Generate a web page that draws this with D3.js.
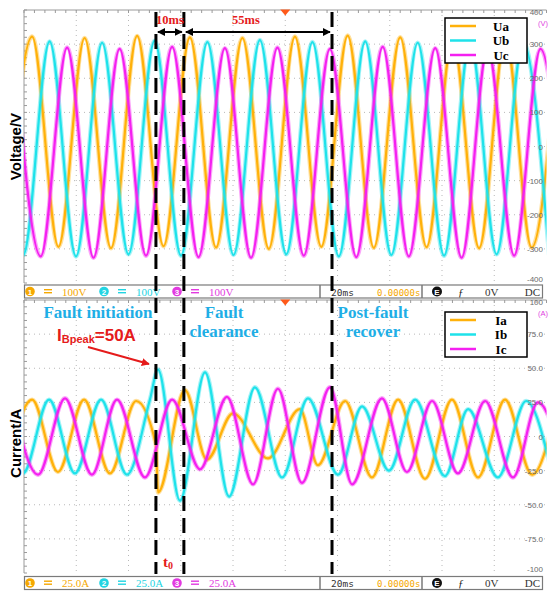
<!DOCTYPE html>
<html>
<head>
<meta charset="utf-8">
<script src="https://cdn.jsdelivr.net/npm/d3@7"></script>
<style>
body { margin: 0; background: #fff; }
</style>
</head>
<body>
<script>
// voltage extrema (time ms, value V)
var uaT = [-7.0, 3.1, 13.2, 23.2, 33.3, 43.3, 53.4, 63.5, 73.5, 83.6, 93.7, 103.7, 113.8, 123.9, 133.9, 144.0, 154.1, 164.1, 174.2, 184.3, 194.3, 204.4];
var uaV = [-296, 322, -294, 318, -298, 324, -292, 320, -296, 318, -300, 322, -294, 325, -297, 320, -295, 318, -298, 322, -296, 320];
var ubT = [-10.3, -0.3, 9.8, 19.9, 29.9, 40.0, 50.0, 60.1, 70.2, 80.2, 90.3, 100.4, 110.4, 120.5, 130.6, 140.6, 150.7, 160.8, 170.8, 180.9, 191.0, 201.0];
var ubV = [306, -318, 308, -322, 304, -316, 310, -320, 306, -318, 312, -316, 306, -322, 308, -318, 304, -320, 310, -316, 306, -318];
var ucT = [-3.6, 6.4, 16.5, 26.6, 36.6, 46.7, 56.7, 66.8, 76.9, 86.9, 97.0, 107.1, 117.1, 127.2, 137.3, 147.3, 157.4, 167.5, 177.5, 187.6, 197.7, 207.7];
var ucV = [288, -322, 290, -326, 286, -320, 292, -324, 288, -326, 290, -320, 286, -324, 292, -322, 288, -326, 290, -320, 286, -324];

// current extrema (time ms, value A)
var iaT = [-6.9, 3.1, 13.0, 23.0, 32.9, 42.9, 50.5, 51.3, 61.6, 70.0, 80.0, 93.4, 105.6, 112.5, 122.9, 133.2, 143.2, 153.5, 163.8, 173.8, 184.1, 194.5, 204.4];
var iaV = [-26, 27, -26, 27, -27, 26, -6, -41, 34, -17, 17, -16, 20, -21, 26, -30, 27, -31, 27, -30, 27, -28, 27];
var ibT = [-10.3, -0.4, 9.6, 19.5, 29.5, 39.4, 48.2, 51.3, 59.7, 69.3, 78.5, 88.4, 98.8, 108.7, 120.2, 129.4, 139.7, 149.7, 161.1, 170.0, 181.4, 192.2, 202.1];
var ibV = [27, -27, 27, -27, 27, -28, 27, 49, -47, 47, -44, 36, -30, 28, -28, 22, -25, 27, -29, 20, -30, 26, -27];
var icT = [-4.6, 5.4, 15.7, 26.0, 35.6, 46.3, 56.7, 67.4, 77.7, 87.7, 97.2, 106.4, 117.1, 125.6, 137.0, 146.6, 156.2, 166.1, 176.5, 187.2, 196.7, 207.1];
var icV = [27, -28, 28, -28, 27, -30, 27, -24, 29, -35, 35, -34, 36, -35, 28, -26, 26, -27, 26, -30, 25, -27];

// scope screen settings and markers
var uTicks = [400, 300, 200, 100, 0, -100, -200, -300, -400];
var iTicks = [100, 75, 50, 25, 0, -25, -50, -75, -100];
var timeDivs = [0, 20, 40, 60, 80, 100, 120, 140, 160, 180, 200];
var faultTimes = [50.5, 61.2, 117.9];
var uNames = ["Ua", "Ub", "Uc"];
var iNames = ["Ia", "Ib", "Ic"];
var colors = ["#ffb10a", "#1ee2ea", "#f420f0"];
var barColors = ["#f5a800", "#22d4e2", "#e23ae0"];

var width = 550, height = 602;
var svg = d3.select("body").append("svg")
  .attr("width", width).attr("height", height)
  .style("font-family", "Liberation Sans, Arial, sans-serif");

var x = d3.scaleLinear().domain([0, 200]).range([24, 546.5]);
var yU = d3.scaleLinear().domain([-400, 400]).range([283, 10]);
var yI = d3.scaleLinear().domain([-100, 100]).range([573, 300]);

var defs = svg.append("defs");
function marker(id, color) {
  defs.append("marker").attr("id", id)
    .attr("viewBox", "0 0 10 10").attr("refX", 9).attr("refY", 5)
    .attr("markerWidth", 4).attr("markerHeight", 4).attr("orient", "auto-start-reverse")
    .append("path").attr("d", "M0,0L10,5L0,10z").attr("fill", color);
}
marker("arrK", "#000");
marker("arrR", "#e51b1b");

function panel(y, ticks, fmt, unit, names, series, name) {
  var g = svg.append("g");
  var y0 = y.range()[1], y1 = y.range()[0];

  defs.append("clipPath").attr("id", "clip" + name)
    .append("rect").attr("x", x(0)).attr("y", y0).attr("width", x(200) - x(0)).attr("height", y1 - y0);
  defs.append("clipPath").attr("id", "lab" + name)
    .append("rect").attr("x", 500).attr("y", y0 - 2).attr("width", 50).attr("height", y1 - y0 + 2);

  // dotted grid
  g.selectAll(".vg").data(timeDivs.slice(1, -1)).enter().append("line")
    .attr("x1", d => x(d)).attr("x2", d => x(d)).attr("y1", y0).attr("y2", y1)
    .attr("stroke", "#b8b8b8").attr("stroke-width", 1).attr("stroke-dasharray", "1,4");
  g.selectAll(".hg").data(ticks.slice(1, -1)).enter().append("line")
    .attr("x1", x(0)).attr("x2", x(200)).attr("y1", d => y(d)).attr("y2", d => y(d))
    .attr("stroke", "#b8b8b8").attr("stroke-width", 1).attr("stroke-dasharray", "1,4");

  // frame with small ticks
  g.append("line").attr("x1", x(0)).attr("x2", x(200)).attr("y1", y0).attr("y2", y0).attr("stroke", "#9a9a9a");
  g.append("line").attr("x1", x(0)).attr("x2", x(0)).attr("y1", y0).attr("y2", y1).attr("stroke", "#9a9a9a");
  var minorT = d3.range(0, 201, 4);
  g.selectAll(".mt").data(minorT).enter().append("line")
    .attr("x1", d => x(d)).attr("x2", d => x(d)).attr("y1", y0).attr("y2", y0 + 3)
    .attr("stroke", "#9a9a9a");
  var step = (y.domain()[1] - y.domain()[0]) / 40;
  g.selectAll(".ml").data(d3.range(y.domain()[0], y.domain()[1] + step / 2, step)).enter().append("line")
    .attr("x1", x(0)).attr("x2", x(0) + 3).attr("y1", d => y(d)).attr("y2", d => y(d))
    .attr("stroke", "#9a9a9a");

  // traces
  var line = d3.line().x(d => x(d[0])).y(d => y(d[1])).curve(d3.curveMonotoneX);
  var tg = g.append("g").attr("clip-path", "url(#clip" + name + ")");
  series.forEach(function(s, i) {
    var pts = d3.zip(s[0], s[1]);
    tg.append("path").attr("d", line(pts)).attr("fill", "none")
      .attr("stroke", colors[i]).attr("stroke-width", 4.5).attr("stroke-opacity", 0.4);
    tg.append("path").attr("d", line(pts)).attr("fill", "none")
      .attr("stroke", colors[i]).attr("stroke-width", 2.2);
  });

  // right scale labels (cut by the screen edges, as on the scope)
  var lg0 = g.append("g").attr("clip-path", "url(#lab" + name + ")");
  lg0.selectAll(".tl").data(ticks).enter().append("text")
    .attr("x", 543).attr("y", d => Math.max(y0 + 5, Math.min(y1 - 1.5, y(d) + 3)))
    .attr("text-anchor", "end").attr("font-size", 8).attr("fill", "#6a6a6a")
    .text(fmt);
  g.append("text").attr("x", 548).attr("y", y0 + 15.5).attr("text-anchor", "end")
    .attr("font-size", 7.5).attr("fill", "#e040e0").text(unit);

  // trigger marker
  g.append("path").attr("d", "M" + (x(100) - 5) + "," + (y0 - 0.5) + "h10l-5,6z").attr("fill", "#ff5a1a");

  // legend
  var lx = 445, ly = y0 + (name == "U" ? 8 : 12);
  var gap = 14.5;
  var lg = g.append("g");
  lg.append("rect").attr("x", lx).attr("y", ly).attr("width", 82).attr("height", 45)
    .attr("fill", "#fff").attr("stroke", "#000").attr("stroke-width", 1.5);
  names.forEach(function(n, i) {
    var yy = ly + 8 + i * gap;
    lg.append("line").attr("x1", lx + 5).attr("x2", lx + 31).attr("y1", yy).attr("y2", yy)
      .attr("stroke", colors[i]).attr("stroke-width", 2.5);
    lg.append("text").attr("x", lx + 56).attr("y", yy + 4.5).attr("text-anchor", "middle")
      .attr("font-family", "Liberation Serif, Times New Roman, serif").attr("font-weight", "bold")
      .attr("font-size", 13).text(n);
  });
}

panel(yU, uTicks, d => String(d), "(V)", uNames, [[uaT, uaV], [ubT, ubV], [ucT, ucV]], "U");
panel(yI, iTicks, d => (Math.abs(d) == 100 || d == 0) ? String(d) : d.toFixed(1), "(A)", iNames,
  [[iaT, iaV], [ibT, ibV], [icT, icV]], "I");

// status bars
function statusBar(yb, scaleTxt) {
  var g = svg.append("g");
  g.append("rect").attr("x", 24.5).attr("y", yb).attr("width", 518).attr("height", 13)
    .attr("fill", "#fff").attr("stroke", "#7a7a7a").attr("stroke-width", 1.2);
  [320, 422].forEach(function(sx) {
    g.append("line").attr("x1", sx).attr("x2", sx).attr("y1", yb).attr("y2", yb + 13)
      .attr("stroke", "#7a7a7a").attr("stroke-width", 1.5);
  });
  var cx = [30, 104, 177];
  cx.forEach(function(c, i) {
    g.append("circle").attr("cx", c).attr("cy", yb + 6.5).attr("r", 4.8).attr("fill", barColors[i]);
    g.append("text").attr("x", c).attr("y", yb + 9.5).attr("text-anchor", "middle")
      .attr("font-size", 8).attr("font-weight", "bold").attr("fill", "#fff").text(i + 1);
    g.append("rect").attr("x", c + 14).attr("y", yb + 4).attr("width", 8).attr("height", 1.4).attr("fill", barColors[i]);
    g.append("rect").attr("x", c + 14).attr("y", yb + 7).attr("width", 8).attr("height", 1.4).attr("fill", barColors[i]);
    g.append("text").attr("x", c + 32).attr("y", yb + 10.5)
      .attr("font-family", "Liberation Serif, serif").attr("font-size", 11)
      .attr("fill", barColors[i]).text(scaleTxt);
  });
  var mono = "DejaVu Sans Mono, monospace";
  g.append("text").attr("x", 331).attr("y", yb + 10.5).attr("font-family", mono).attr("font-size", 9.5)
    .attr("fill", "#333").text("20ms");
  g.append("text").attr("x", 377).attr("y", yb + 10.5).attr("font-family", mono).attr("font-size", 9)
    .attr("fill", "#f5a800").text("0.00000s");
  g.append("circle").attr("cx", 437).attr("cy", yb + 6.5).attr("r", 5).attr("fill", "#111");
  g.append("text").attr("x", 437).attr("y", yb + 9.5).attr("text-anchor", "middle")
    .attr("font-size", 8).attr("font-weight", "bold").attr("fill", "#fff").text("E");
  g.append("text").attr("x", 458).attr("y", yb + 10.5).attr("font-family", "Liberation Serif, serif")
    .attr("font-style", "italic").attr("font-size", 11).attr("fill", "#222").text("ƒ");
  g.append("text").attr("x", 485).attr("y", yb + 10.5).attr("font-family", "Liberation Serif, serif")
    .attr("font-size", 11).attr("fill", "#333").text("0V");
  g.append("text").attr("x", 540).attr("y", yb + 10.5).attr("text-anchor", "end")
    .attr("font-family", "Liberation Serif, serif").attr("font-size", 11).attr("fill", "#333").text("DC");
}
statusBar(285, "100V");
statusBar(576.5, "25.0A");

// axis titles
svg.append("text").attr("transform", "translate(21," + yU(0) + ") rotate(-90)")
  .attr("text-anchor", "middle").attr("font-weight", "bold").attr("font-size", 15).text("Voltage/V");
svg.append("text").attr("transform", "translate(21," + yI(-5) + ") rotate(-90)")
  .attr("text-anchor", "middle").attr("font-weight", "bold").attr("font-size", 15).text("Current/A");

// fault markers
svg.selectAll(".fl").data(faultTimes).enter().append("line")
  .attr("x1", d => x(d)).attr("x2", d => x(d)).attr("y1", 12).attr("y2", 574)
  .attr("stroke", "#000").attr("stroke-width", 3).attr("stroke-dasharray", "15,7");

// interval arrows
var ay = 32;
svg.append("line").attr("x1", x(faultTimes[0]) + 2).attr("x2", x(faultTimes[1]) - 2).attr("y1", ay).attr("y2", ay)
  .attr("stroke", "#000").attr("stroke-width", 2)
  .attr("marker-start", "url(#arrK)").attr("marker-end", "url(#arrK)");
svg.append("line").attr("x1", x(faultTimes[1]) + 2).attr("x2", x(faultTimes[2]) - 2).attr("y1", ay).attr("y2", ay)
  .attr("stroke", "#000").attr("stroke-width", 2)
  .attr("marker-start", "url(#arrK)").attr("marker-end", "url(#arrK)");
var serif = "Liberation Serif, Times New Roman, serif";
svg.append("text").attr("x", (x(faultTimes[0]) + x(faultTimes[1])) / 2).attr("y", 24)
  .attr("text-anchor", "middle").attr("font-family", serif).attr("font-weight", "bold")
  .attr("font-size", 12.5).attr("fill", "#e51b1b").text("10ms");
svg.append("text").attr("x", 246).attr("y", 24)
  .attr("text-anchor", "middle").attr("font-family", serif).attr("font-weight", "bold")
  .attr("font-size", 12.5).attr("fill", "#e51b1b").text("55ms");

// stage labels
var blue = "#1eaee6";
function stage(xc, lines) {
  var t = svg.append("text").attr("text-anchor", "middle")
    .attr("font-family", serif).attr("font-weight", "bold").attr("font-size", 17).attr("fill", blue);
  lines.forEach(function(s, i) {
    t.append("tspan").attr("x", xc).attr("y", 318 + i * 19).text(s);
  });
}
stage(98, ["Fault initiation"]);
stage(224, ["Fault", "clearance"]);
stage(373, ["Post-fault", "recover"]);

// peak current annotation
var pk = svg.append("text").attr("x", 57).attr("y", 341).attr("font-weight", "bold")
  .attr("font-size", 17).attr("fill", "#e51b1b");
pk.append("tspan").text("I");
pk.append("tspan").attr("font-size", 11).attr("dy", 2).text("Bpeak");
pk.append("tspan").attr("dy", -2).text("=50A");
svg.append("line").attr("x1", 88).attr("y1", 347).attr("x2", 149).attr("y2", 364)
  .attr("stroke", "#e51b1b").attr("stroke-width", 2).attr("marker-end", "url(#arrR)");

var t0 = svg.append("text").attr("x", 163).attr("y", 567).attr("font-family", serif)
  .attr("font-weight", "bold").attr("font-size", 15).attr("fill", "#e51b1b");
t0.append("tspan").text("t");
t0.append("tspan").attr("font-size", 10).attr("dy", 2).text("0");
</script>
</body>
</html>
